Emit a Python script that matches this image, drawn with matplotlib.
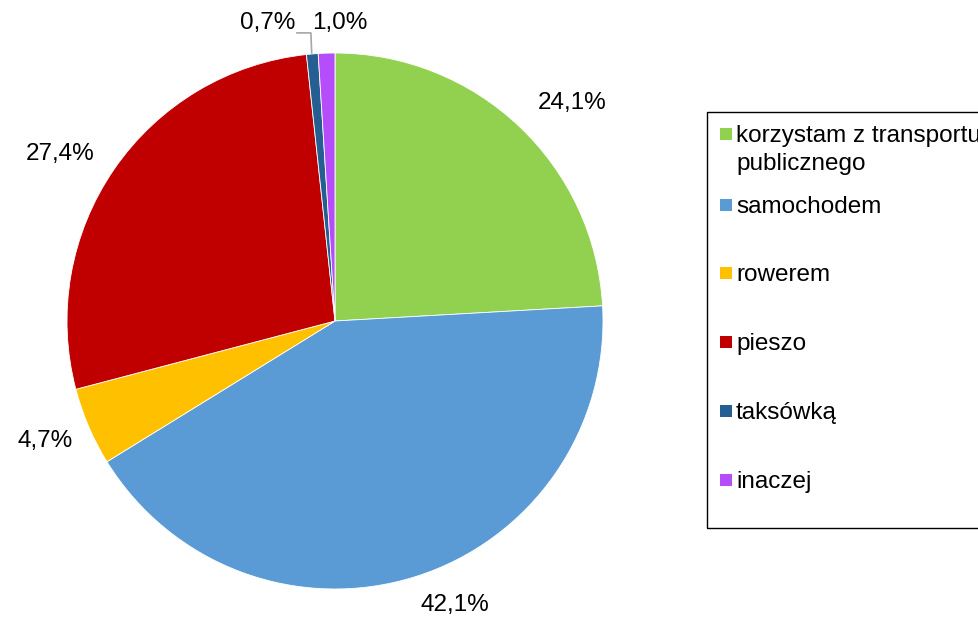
import numpy as np
import matplotlib.pyplot as plt
from matplotlib.patches import Rectangle

plt.rcParams['font.family'] = ['Liberation Sans', 'DejaVu Sans']

categories = ['korzystam z transportu\npublicznego', 'samochodem', 'rowerem',
              'pieszo', 'taksówką', 'inaczej']
values = [24.1, 42.1, 4.7, 27.4, 0.7, 1.0]
labels = ['24,1%', '42,1%', '4,7%', '27,4%', '0,7%', '1,0%']
colors = ['#92D050', '#5B9BD5', '#FFC000', '#C00000', '#255E91', '#B54DFA']

W, H = 979, 619
fig = plt.figure(figsize=(W / 100, H / 100), dpi=100)

# pie axes: centre (335, 321) px, radius 268 px
cx, cy, R = 335, 321, 268
ax = fig.add_axes([(cx - R) / W, (H - cy - R) / H, 2 * R / W, 2 * R / H])
wedges, _ = ax.pie(values, colors=colors, startangle=90, counterclock=False,
                   radius=1, wedgeprops=dict(edgecolor='white', linewidth=0.6))
ax.set_xlim(-1, 1)
ax.set_ylim(-1, 1)
ax.set_aspect('equal')
ax.axis('off')

fs = 17.5
dist = [1.2, 1.15, 1.17, 1.2]
shift = [-4, 5.4, -0.7, 3.2]
for w, lab, d, s in zip(wedges[:4], labels[:4], dist, shift):
    ang = np.deg2rad((w.theta1 + w.theta2) / 2 + s)
    ax.text(d * np.cos(ang), d * np.sin(ang), lab, ha='center', va='center',
            fontsize=fs, color='#000000', clip_on=False)

# small slices at the top
ax.text(-0.25, 1.112, labels[4], ha='center', va='center', fontsize=fs, clip_on=False)
ax.text(0.017, 1.112, labels[5], ha='center', va='center', fontsize=fs, clip_on=False)
ax.plot([-0.142, -0.09, -0.087], [1.075, 1.075, 1.0],
        color='#A6A6A6', lw=1.2, clip_on=False)

# legend
fig.patches.append(Rectangle((707 / W, (H - 528) / H), 300 / W, (528 - 112) / H,
                             transform=fig.transFigure, fill=False,
                             edgecolor='#000000', lw=1.0))
ys = [134, 205, 273, 342, 411, 480]
for y, cat, col in zip(ys, categories, colors):
    fig.patches.append(Rectangle((720 / W, (H - y - 6) / H), 12 / W, 12 / H,
                                 transform=fig.transFigure, facecolor=col,
                                 edgecolor='none'))
    fig.text(736 / W, (H - y - 2) / H, cat.split('\n')[0], ha='left', va='center',
             fontsize=fs)
    if '\n' in cat:
        fig.text(736 / W, (H - y - 30) / H, cat.split('\n')[1], ha='left',
                 va='center', fontsize=fs)

fig.savefig('out.png', dpi=100)
